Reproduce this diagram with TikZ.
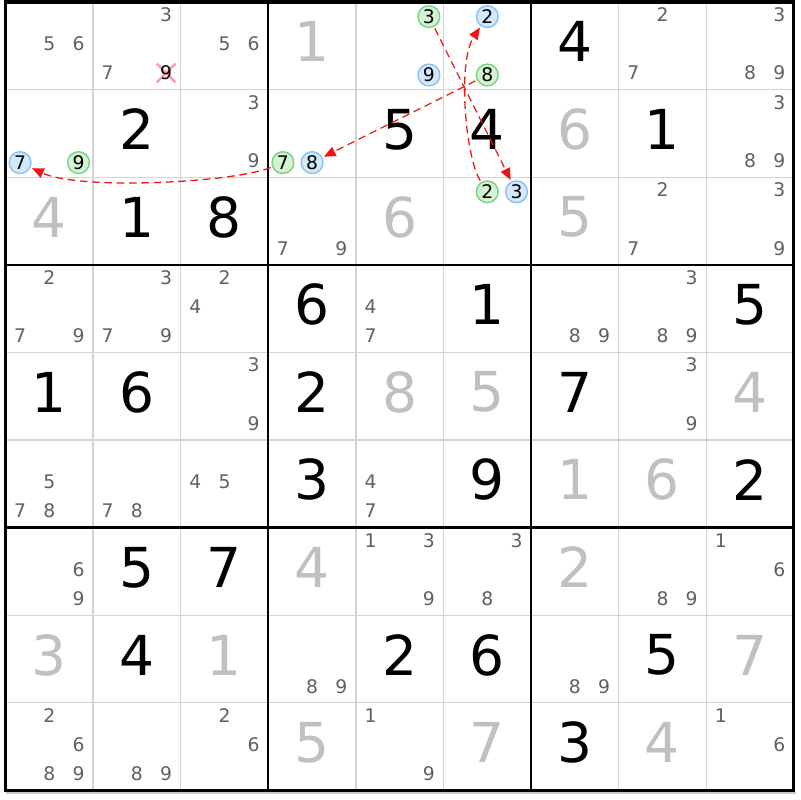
\documentclass[tikz,border=0pt]{standalone}
\usepackage{fontspec}
\setmainfont{DejaVu Sans}
\usepackage{xcolor}
\definecolor{sudgrid}{RGB}{212, 212, 212}
\definecolor{sudfade}{RGB}{192, 192, 192}
\definecolor{sudcand}{RGB}{96, 96, 96}
\definecolor{sudshadow}{RGB}{200, 200, 200}
\definecolor{sudbluedraw}{RGB}{140, 192, 245}
\definecolor{sudbluefill}{RGB}{212, 232, 252}
\definecolor{sudgreendraw}{RGB}{120, 210, 130}
\definecolor{sudgreenfill}{RGB}{212, 242, 212}
\definecolor{sudred}{RGB}{240, 20, 20}
\definecolor{sudpink}{RGB}{246, 160, 170}
\usepackage{tikz}
\usetikzlibrary{arrows.meta, shapes.misc, positioning}

\begin{document}
\begin{tikzpicture}[
        x=0.3mm, y=-0.3mm,
        solved/.style={inner sep=0pt, text=black, font=\fontsize{47}{47}\selectfont},
        faded/.style={solved, text=sudfade},
        cand/.style={inner sep=0pt, text=sudcand, font=\fontsize{16}{16}\selectfont},
        chosen/.style={
            circle,
            draw=sud#1draw,
            fill=sud#1fill,
            line width=1.2pt,
            minimum size=18.6pt,
            inner sep=0pt,
            outer sep=2pt,
            text=black,
            font=\fontsize{16}{16}\selectfont
        },
        struck/.style={cross out, draw=sudpink, line width=2pt, minimum size=14pt, inner sep=0pt},
        thinline/.style={draw=sudgrid, line width=1.1pt},
        boxline/.style={draw=black, line width=2pt},
        link/.style={-{Triangle[length=10pt, width=8.5pt]}, draw=sudred, line width=1.1pt, dash pattern=on 6.5pt off 4pt}
    ]
    \fill[white] (0,0) rectangle (800,800);

    \foreach \i in {1,2,4,5,7,8} {
        \draw[thinline] ({5.5+\i*87.6},2) -- ({5.5+\i*87.6},790.4);
        \draw[thinline] (5.5,{2+\i*87.6}) -- (793.9,{2+\i*87.6});
    }
    \foreach \i in {3,6} {
        \draw[boxline] ({5.5+\i*87.6},2) -- ({5.5+\i*87.6},790.4);
        \draw[boxline] (5.5,{2+\i*87.6}) -- (793.9,{2+\i*87.6});
    }
    \draw[sudshadow, line width=2pt] (5.5,792.8) -- (795.5,792.8);
    \draw[black, line width=2.6pt] (5.5,2) rectangle (793.9,790.4);

    \foreach \r/\c/\v in {1/7/4, 2/2/2, 2/5/5, 2/6/4, 2/8/1, 3/2/1, 3/3/8, 4/4/6, 4/6/1, 4/9/5,
            5/1/1, 5/2/6, 5/4/2, 5/7/7, 6/4/3, 6/6/9, 6/9/2, 7/2/5, 7/3/7, 8/2/4,
            8/5/2, 8/6/6, 8/8/5, 9/7/3}
        \node[solved] (v\r\c) at ({5.5+(\c-0.5)*87.6},{(\r-0.5)*87.6-2}) {\v};
    \foreach \r/\c/\v in {1/4/1, 2/7/6, 3/1/4, 3/5/6, 3/7/5, 5/5/8, 5/6/5, 5/9/4, 6/7/1,
            6/8/6, 7/4/4, 7/7/2, 8/1/3, 8/3/1, 8/9/7, 9/4/5, 9/6/7, 9/8/4}
        \node[faded] (v\r\c) at ({5.5+(\c-0.5)*87.6},{(\r-0.5)*87.6-2}) {\v};

    \foreach \r/\c/\ds in {1/1/{5,6}, 1/2/{3,7}, 1/3/{5,6}, 1/8/{2,7}, 1/9/{3,8,9},
            2/3/{3,9}, 2/9/{3,8,9}, 3/4/{7,9}, 3/8/{2,7}, 3/9/{3,9},
            4/1/{2,7,9}, 4/2/{3,7,9}, 4/3/{2,4}, 4/5/{4,7}, 4/7/{8,9}, 4/8/{3,8,9},
            5/3/{3,9}, 5/8/{3,9}, 6/1/{5,7,8}, 6/2/{7,8}, 6/3/{4,5}, 6/5/{4,7},
            7/1/{6,9}, 7/5/{1,3,9}, 7/6/{3,8}, 7/8/{8,9}, 7/9/{1,6},
            8/4/{8,9}, 8/7/{8,9}, 9/1/{2,6,8,9}, 9/2/{8,9}, 9/3/{2,6}, 9/5/{1,9}, 9/9/{1,6}} {
        \foreach \d in \ds {
            \pgfmathsetmacro{\cx}{5.5+(\c-1)*87.6+(mod(\d-1,3)+0.5)*29.2}
            \pgfmathsetmacro{\cy}{(\r-1)*87.6+(floor((\d-1)/3)+0.5)*29.2}
            \node[cand] (p\r\c\d) at (\cx,\cy) {\d};
        }
    }

    \foreach \r/\c/\d/\hue in {1/5/3/green, 1/5/9/blue, 1/6/2/blue, 1/6/8/green, 2/1/7/blue,
            2/1/9/green, 2/4/7/green, 2/4/8/blue, 3/6/2/green, 3/6/3/blue} {
        \pgfmathsetmacro{\cx}{5.5+(\c-1)*87.6+(mod(\d-1,3)+0.5)*29.2}
        \pgfmathsetmacro{\cy}{2+(\r-1)*87.6+(floor((\d-1)/3)+0.5)*29.2}
        \node[chosen=\hue] (p\r\c\d) at (\cx,\cy) {\d};
    }

    \node[struck] (x129) at (166.1,73) {};
    \node[cand, text=black] (p129) at (166.1,73) {9};

    \draw[link] (p153) -- (p363);
    \draw[link] (p362) .. controls +(-22,-35) and +(-30,45) .. (p162);
    \draw[link] (p168) -- (p248);
    \draw[link] (p247) .. controls +(-50,20) and +(60,28) .. (p217);

\end{tikzpicture}
\end{document}
